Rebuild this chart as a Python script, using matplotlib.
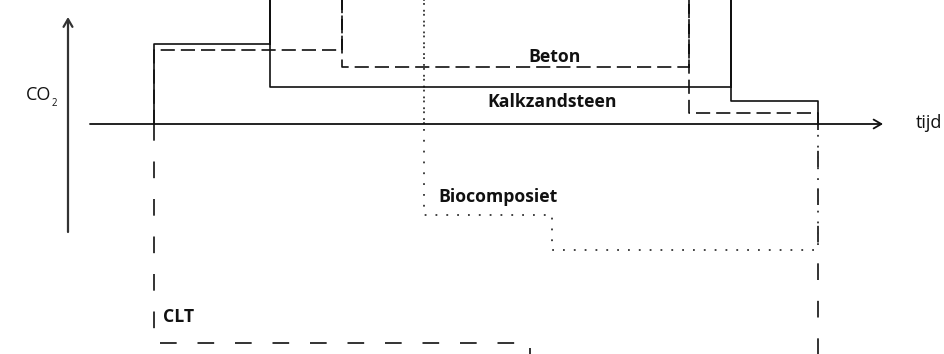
import matplotlib
matplotlib.use("Agg")
import matplotlib.pyplot as plt

# ---- data (time in arbitrary units, 0 = construction, 100 = end of life; CO2 arbitrary units)
SPIKE = 60    # off-chart emission pulse
SINK = -80    # off-chart storage

beton_t = [0, 0, 28.3, 28.3, 28.3, 80.6, 80.6, 80.6, 100, 100]
beton_c = [0, 18.5, 18.5, SPIKE, 14.25, 14.25, SPIKE, 2.75, 2.75, 0]

kalk_t = [0, 0, 17.5, 17.5, 17.5, 86.9, 86.9, 86.9, 100, 100]
kalk_c = [0, 20.0, 20.0, SPIKE, 9.25, 9.25, SPIKE, 5.75, 5.75, 0]

bio_t = [40.7, 40.7, 40.7, 60.0, 60.0, 100, 100]
bio_c = [0, SPIKE, -22.75, -22.75, -31.5, -31.5, 0]

clt_t = [0, 0, 56.6, 56.6, 100, 100]
clt_c = [0, -54.75, -54.75, SINK, SINK, 0]

labels = ["Beton", "Kalkzandsteen", "Biocomposiet", "CLT"]
label_t = [60.4, 59.9, 42.8, 1.4]
label_c = [16.75, 5.5, -18.25, -48.25]

# ---- figure
fig = plt.figure(figsize=(9.44, 3.54), dpi=100)
ax = fig.add_axes([0, 0, 1, 1])
ax.set_xlim(-23.19, 118.98)
ax.set_ylim(-57.5, 31.0)
ax.axis("off")

lw = 1.2
ax.plot(clt_t, clt_c, color="#111111", lw=lw, linestyle=(0, (10, 12.5)))
ax.plot(bio_t, bio_c, color="#333333", lw=1.3, linestyle=(0, (1.0, 5.0)))
ax.plot(beton_t, beton_c, color="#111111", lw=lw, linestyle=(0, (8.5, 3.6)))
ax.plot(kalk_t, kalk_c, color="#111111", lw=lw, linestyle="-")

# axes arrows
ax.annotate("", xy=(109.8, 0), xytext=(-9.64, 0),
            arrowprops=dict(arrowstyle="->,head_length=0.55,head_width=0.32", lw=1.3, color="#111111",
                            shrinkA=0, shrinkB=0))
ax.annotate("", xy=(-12.95, 26.75), xytext=(-12.95, -27.0),
            arrowprops=dict(arrowstyle="->,head_length=0.55,head_width=0.32", lw=1.6, color="#333333",
                            shrinkA=0, shrinkB=0))

fam = ["Open Sans", "DejaVu Sans"]
for i, (lab, t, c) in enumerate(zip(labels, label_t, label_c)):
    ha = "center" if i < 2 else "left"
    ax.text(t, c, lab, ha=ha, va="center", fontsize=12.7, fontweight="bold", family=fam, color="#111111")

# axis titles
fig.text(26 / 944, 1 - 95 / 354, "CO", ha="left", va="center", fontsize=13, family=fam, color="#111111")
fig.text(51.5 / 944, 1 - 103 / 354, "2", ha="left", va="center", fontsize=7, family=fam, color="#111111")
fig.text(916 / 944, 1 - 123 / 354, "tijd", ha="left", va="center", fontsize=13, family=fam, color="#111111")

fig.savefig("out.png", dpi=100)
